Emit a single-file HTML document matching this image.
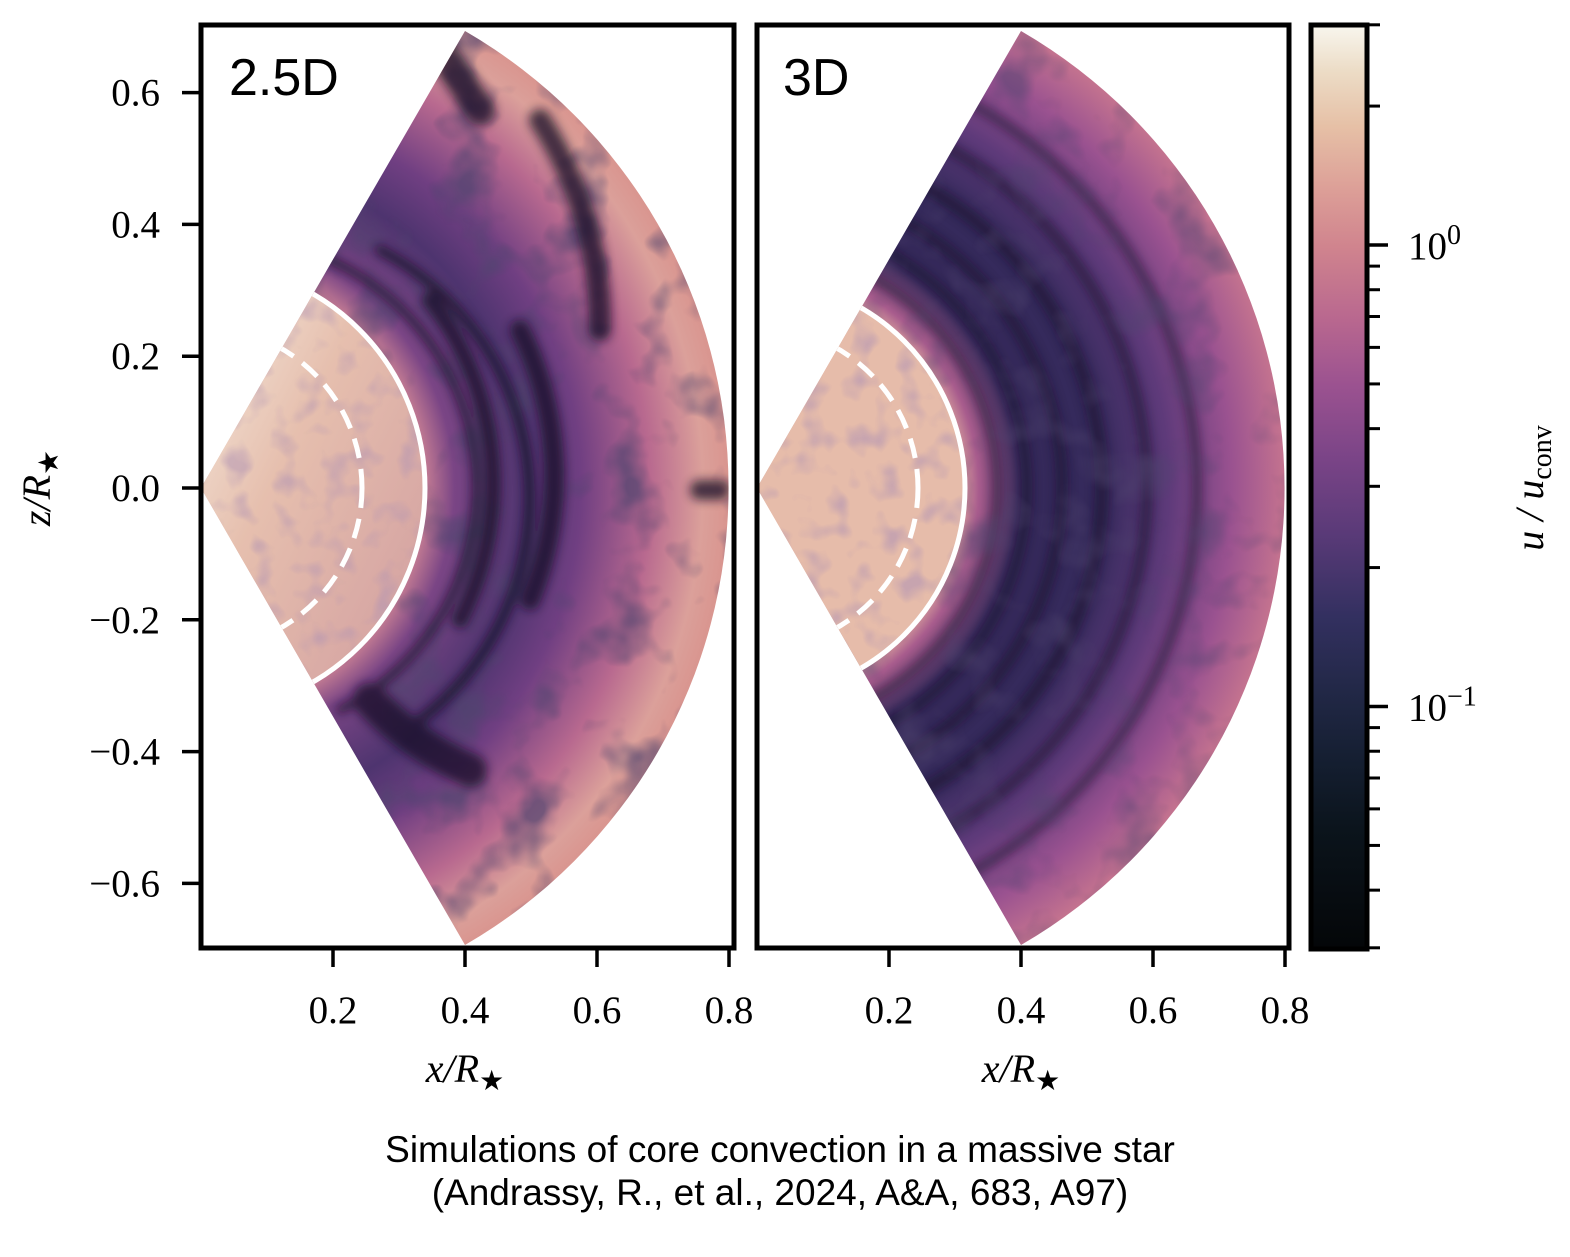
<!DOCTYPE html>
<html><head><meta charset="utf-8"><style>
html,body{margin:0;padding:0;background:#fff;}
svg text{font-family:"Liberation Serif",serif;}
</style></head><body>
<svg id="fig" width="1570" height="1252" viewBox="0 0 1570 1252" xmlns="http://www.w3.org/2000/svg">
<defs>
 <linearGradient id="cmap" x1="0" y1="1" x2="0" y2="0">
  <stop offset="0" stop-color="#040608"/>
  <stop offset="0.13" stop-color="#0b141c"/>
  <stop offset="0.2" stop-color="#141e30"/>
  <stop offset="0.28" stop-color="#222847"/>
  <stop offset="0.36" stop-color="#333060"/>
  <stop offset="0.45" stop-color="#5a3a78"/>
  <stop offset="0.53" stop-color="#7a4487"/>
  <stop offset="0.61" stop-color="#9b5290"/>
  <stop offset="0.68" stop-color="#b8678f"/>
  <stop offset="0.76" stop-color="#d0848e"/>
  <stop offset="0.82" stop-color="#dc9e97"/>
  <stop offset="0.89" stop-color="#e6c0a6"/>
  <stop offset="0.95" stop-color="#ecdcc6"/>
  <stop offset="1" stop-color="#f8f6ee"/>
 </linearGradient>
 <radialGradient id="gL" gradientUnits="userSpaceOnUse" cx="201" cy="488" r="528">
  <stop offset="0" stop-color="#e8c2b0"/>
  <stop offset="0.35" stop-color="#dca79e"/>
  <stop offset="0.42" stop-color="#c98094"/>
  <stop offset="0.48" stop-color="#7a4585"/>
  <stop offset="0.62" stop-color="#4e346f"/>
  <stop offset="0.72" stop-color="#703f82"/>
  <stop offset="0.85" stop-color="#b8698f"/>
  <stop offset="0.95" stop-color="#dba09a"/>
  <stop offset="1" stop-color="#d9958f"/>
 </radialGradient>
 <radialGradient id="gR" gradientUnits="userSpaceOnUse" cx="757" cy="488" r="528">
  <stop offset="0" stop-color="#e6b8a6"/>
  <stop offset="0.38" stop-color="#e0ab9f"/>
  <stop offset="0.42" stop-color="#a85c8d"/>
  <stop offset="0.5" stop-color="#35295a"/>
  <stop offset="0.65" stop-color="#352a5c"/>
  <stop offset="0.78" stop-color="#5e3a7a"/>
  <stop offset="0.9" stop-color="#9a5290"/>
  <stop offset="1" stop-color="#c4738f"/>
 </radialGradient>
 <linearGradient id="coreL" x1="0" y1="0" x2="1" y2="1">
  <stop offset="0" stop-color="#f6eee2"/>
  <stop offset="0.4" stop-color="#e6bfae"/>
  <stop offset="1" stop-color="#cf9a9e"/>
 </linearGradient>
 <clipPath id="wL"><path d="M201,488 L465,31 A528,528 0 0 1 465,945 Z"/></clipPath>
 <clipPath id="wR"><path d="M757,488 L1021,31 A528,528 0 0 1 1021,945 Z"/></clipPath>
 <clipPath id="cL"><circle cx="201" cy="488" r="226"/></clipPath>
 <clipPath id="cR"><circle cx="757" cy="488" r="210"/></clipPath>
 <filter id="turb" x="0" y="0" width="100%" height="100%">
  <feTurbulence type="fractalNoise" baseFrequency="0.018" numOctaves="3" seed="4"/>
  <feColorMatrix type="matrix" values="0 0 0 0 0.08  0 0 0 0 0.06  0 0 0 0 0.16  0 0 0 -3.2 1.6"/>
 </filter>
 <filter id="turb2" x="0" y="0" width="100%" height="100%">
  <feTurbulence type="fractalNoise" baseFrequency="0.04" numOctaves="2" seed="9"/>
  <feColorMatrix type="matrix" values="0 0 0 0 0.45  0 0 0 0 0.3  0 0 0 0 0.45  0 0 0 -3 1.5"/>
 </filter>
 <filter id="blur" x="-20%" y="-20%" width="140%" height="140%"><feGaussianBlur stdDeviation="5"/></filter>
</defs>

<!-- Left panel -->
<g clip-path="url(#wL)">
 <rect x="201" y="25" width="533" height="923" fill="url(#gL)"/>
 <rect x="201" y="25" width="533" height="923" filter="url(#turb)" opacity="0.7"/>
 <g fill="none" stroke="#150f25" stroke-linecap="round" opacity="0.75" filter="url(#blur)">
  <path d="M330,260 A250,250 0 0 1 340,710" stroke-width="8"/>
  <path d="M380,250 A280,280 0 0 1 420,720" stroke-width="10"/>
  <path d="M430,300 A300,300 0 0 1 460,620" stroke-width="16"/>
  <path d="M520,330 A330,330 0 0 1 530,600" stroke-width="20"/>
  <path d="M540,120 A380,380 0 0 1 600,330" stroke-width="22"/>
  <path d="M370,700 A300,300 0 0 0 470,770" stroke-width="34"/>
  <path d="M330,760 L360,840" stroke-width="34"/>
  <path d="M440,50 L480,110" stroke-width="30"/>
  <path d="M700,490 L720,490" stroke-width="20"/>
 </g>
 <g clip-path="url(#cL)">
  <rect x="201" y="262" width="226" height="452" fill="url(#coreL)"/>
  <rect x="201" y="262" width="226" height="452" filter="url(#turb2)" opacity="0.55"/>
 </g>
 <circle cx="201" cy="488" r="224" fill="none" stroke="#fff" stroke-width="5"/>
 <circle cx="201" cy="488" r="161" fill="none" stroke="#fff" stroke-width="5" stroke-dasharray="20 11"/>
</g>

<!-- Right panel -->
<g clip-path="url(#wR)">
 <rect x="757" y="25" width="533" height="923" fill="url(#gR)"/>
 <g fill="none" stroke="#141026" opacity="0.5" filter="url(#blur)">
  <circle cx="757" cy="488" r="240" stroke-width="8"/>
  <circle cx="757" cy="488" r="270" stroke-width="10"/>
  <circle cx="757" cy="488" r="305" stroke-width="12"/>
  <circle cx="757" cy="488" r="345" stroke-width="14"/>
  <circle cx="757" cy="488" r="390" stroke-width="12"/>
  <circle cx="757" cy="488" r="440" stroke-width="10"/>
 </g>
 <rect x="757" y="25" width="533" height="923" filter="url(#turb)" opacity="0.5"/>
 <g clip-path="url(#cR)">
  <rect x="757" y="278" width="210" height="420" fill="#e6bcaa"/>
  <rect x="757" y="278" width="210" height="420" filter="url(#turb2)" opacity="0.6"/>
 </g>
 <circle cx="757" cy="488" r="208" fill="none" stroke="#fff" stroke-width="5"/>
 <circle cx="757" cy="488" r="161" fill="none" stroke="#fff" stroke-width="5" stroke-dasharray="20 11"/>
</g>

<rect x="201" y="25" width="533" height="923" fill="none" stroke="#000" stroke-width="5"/>
<rect x="757" y="25" width="532" height="923" fill="none" stroke="#000" stroke-width="5"/>
<text x="229" y="95" font-size="52" style="font-family:'Liberation Sans',sans-serif">2.5D</text>
<text x="783" y="95" font-size="52" style="font-family:'Liberation Sans',sans-serif">3D</text>

<rect x="1311" y="25" width="56" height="924" fill="url(#cmap)" stroke="#000" stroke-width="5"/>

<g id="axes"></g>

<text x="465" y="1082" font-size="40" font-style="italic" text-anchor="middle">x/R<tspan font-style="normal" font-size="28" dy="8">★</tspan></text>
<text x="1021" y="1082" font-size="40" font-style="italic" text-anchor="middle">x/R<tspan font-style="normal" font-size="28" dy="8">★</tspan></text>
<text transform="translate(50,488) rotate(-90)" font-size="40" font-style="italic" text-anchor="middle">z/R<tspan font-style="normal" font-size="28" dy="8">★</tspan></text>
<text transform="translate(1543,488) rotate(-90)" font-size="40" font-style="italic" text-anchor="middle">u / u<tspan font-style="normal" font-size="28" dy="8">conv</tspan></text>

<text x="780" y="1162" font-size="37" text-anchor="middle" style="font-family:'Liberation Sans',sans-serif">Simulations of core convection in a massive star</text>
<text x="780" y="1205" font-size="37" text-anchor="middle" style="font-family:'Liberation Sans',sans-serif">(Andrassy, R., et al., 2024, A&amp;A, 683, A97)</text>
</svg>
<script>
const xTicks = [0.2, 0.4, 0.6, 0.8];
const yTicks = [0.6, 0.4, 0.2, 0.0, -0.2, -0.4, -0.6];
const cbarMajor = [1, 0.1];
const cbarMajorLabels = ['0', '\u22121'];
const cbarMinor = [3, 2, 0.9, 0.8, 0.7, 0.6, 0.5, 0.4, 0.3, 0.2, 0.09, 0.08, 0.07, 0.06, 0.05, 0.04, 0.03];

const NS = 'http://www.w3.org/2000/svg';
const g = document.getElementById('axes');
const xL = v => 201 + v * 660;
const xR = v => 757 + v * 660;
const yS = v => 488 - v * 659;
const yC = v => 245 - Math.log10(v) * 461.5;
function el(tag, attrs, txt) {
  const e = document.createElementNS(NS, tag);
  for (const k in attrs) e.setAttribute(k, attrs[k]);
  if (txt !== undefined) e.textContent = txt;
  g.appendChild(e);
  return e;
}
const fmt = v => (v < 0 ? '\u2212' : '') + Math.abs(v).toFixed(1);
xTicks.forEach(v => {
  [xL, xR].forEach((f, i) => {
    const t = el('line', {x1: f(v), x2: f(v), y1: 948, y2: 967, stroke: '#000', 'stroke-width': 3.5});
    
    
    const l = el('text', {x: f(v), y: 1023, 'font-size': 39, 'text-anchor': 'middle'}, fmt(v));
    
    
  });
});
yTicks.forEach(v => {
  const t = el('line', {x1: 182, x2: 201, y1: yS(v), y2: yS(v), stroke: '#000', 'stroke-width': 3.5});
  
  
  const l = el('text', {x: 160, y: yS(v) + 13, 'font-size': 39, 'text-anchor': 'end'}, fmt(v));
  
  
});
cbarMajor.forEach((v, i) => {
  const t = el('line', {x1: 1367, x2: 1388, y1: yC(v), y2: yC(v), stroke: '#000', 'stroke-width': 3.5});
  
  
  const l = el('text', {x: 1408, y: yC(v) + 14, 'font-size': 39});
  
  
  l.textContent = '10';
  const s = document.createElementNS(NS, 'tspan');
  s.setAttribute('font-size', 28);
  s.setAttribute('dy', -15);
  s.textContent = cbarMajorLabels[i];
  l.appendChild(s);
});
cbarMinor.forEach(v => {
  const t = el('line', {x1: 1367, x2: 1380, y1: yC(v), y2: yC(v), stroke: '#000', 'stroke-width': 3});
  
  
});
</script>
</body></html>
